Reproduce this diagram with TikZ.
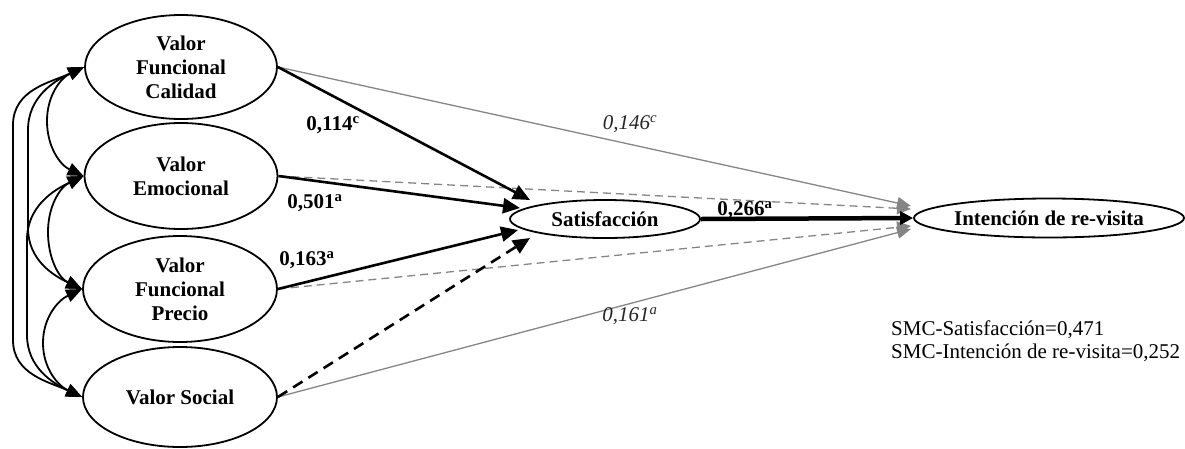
\documentclass[tikz,border=0pt]{standalone}
\usepackage{fontspec}
\setmainfont{Liberation Serif}
\usetikzlibrary{arrows.meta,shapes.geometric}
\definecolor{lgray}{HTML}{858585}
\begin{document}
\begin{tikzpicture}[x=1pt,y=1pt,
  lat/.style={ellipse, draw, line width=1.8pt, inner sep=0pt, align=center,
    font=\fontsize{21}{24}\selectfont\bfseries},
  blk/.style={line width=2.6pt, -{Triangle[length=17pt,width=15pt]}},
  blkd/.style={blk, dash pattern=on 11pt off 7pt},
  gry/.style={draw=lgray, line width=1.3pt, -{Triangle[length=14pt,width=12pt,fill=lgray]}},
  gryd/.style={gry, dash pattern=on 8pt off 5pt},
  mainarr/.style={line width=4.5pt, -{Triangle[length=13pt,width=13pt]}},
  corr/.style={line width=1.8pt, {Triangle[length=16pt,width=13pt]}-{Triangle[length=16pt,width=13pt]}},
  lblb/.style={font=\fontsize{21}{24}\selectfont\bfseries, inner sep=0pt},
  lbli/.style={font=\fontsize{21}{24}\selectfont\itshape, text=black!85, inner sep=0pt},
  smc/.style={font=\fontsize{21}{23}\selectfont, align=left, anchor=west, inner sep=0pt}
]
\useasboundingbox (0,0) rectangle (1185,-448);

% latent variables
\node[lat, minimum width=192pt, minimum height=104pt] (vfc) at (181,-67) {Valor\\Funcional\\Calidad};
\node[lat, minimum width=193pt, minimum height=106pt] (ve) at (181,-176) {Valor\\Emocional};
\node[lat, minimum width=194pt, minimum height=106pt] (vfp) at (180,-289) {Valor\\Funcional\\Precio};
\node[lat, minimum width=194pt, minimum height=100pt] (vs) at (180,-397) {Valor Social};
\node[lat, minimum width=190pt, minimum height=38pt] (sat) at (605,-219) {Satisfacción};
\node[lat, minimum width=270pt, minimum height=39pt] (int) at (1049,-218) {Intención de re-visita};

% arrow end points
\coordinate (t1) at (530,-200);
\coordinate (t2) at (520,-208);
\coordinate (t3) at (518,-230);
\coordinate (t4) at (530,-238);
\coordinate (g1) at (911,-206);
\coordinate (g2) at (911,-209);
\coordinate (g3) at (911,-226);
\coordinate (g4) at (911,-229);

% gray paths to intention
\draw[gry] (vfc.east) -- (g1);
\draw[gryd] (ve.east) -- (g2);
\draw[gryd] (vfp.east) -- (g3);
\draw[gry] (vs.east) -- (g4);

% black paths to satisfaction
\draw[blk] (vfc.east) -- (t1);
\draw[blk] (ve.east) -- (t2);
\draw[blk] (vfp.east) -- (t3);
\draw[blkd] (vs.east) -- (t4);

% main path
\draw[mainarr] (sat.east) -- (int.west);

% correlations
\draw[corr] (vfc.west) to[out=205,in=90] (47,-121) to[out=-90,in=155] (ve.west);
\draw[corr] (ve.west) to[out=205,in=90] (48,-232) to[out=-90,in=155] (vfp.west);
\draw[corr] (vfp.west) to[out=205,in=90] (43,-343) to[out=-90,in=155] (vs.west);
\draw[corr] (vfc.west) to[out=205,in=90] (28,-130) -- (28,-228) to[out=-90,in=155] (vfp.west);
\draw[corr] (ve.west) to[out=205,in=90] (27,-240) -- (27,-335) to[out=-90,in=155] (vs.west);
\draw[corr] (vfc.west) to[out=205,in=90] (13,-125) -- (13,-340) to[out=-90,in=155] (vs.west);

% labels
\node[lblb] (l1) at (333,-125) {0,114\textsuperscript{c}};
\node[lblb] (l2) at (315,-203) {0,501\textsuperscript{a}};
\node[lblb] (l3) at (307,-260) {0,163\textsuperscript{a}};
\node[lblb] (l4) at (745,-210) {0,266\textsuperscript{a}};
\node[lbli] (l5) at (630,-124) {0,146\textsuperscript{c}};
\node[lbli] (l6) at (630,-316) {0,161\textsuperscript{a}};

\node[smc] (smc) at (891,-341) {SMC-Satisfacción=0,471\\SMC-Intención de re-visita=0,252};
\end{tikzpicture}
\end{document}
